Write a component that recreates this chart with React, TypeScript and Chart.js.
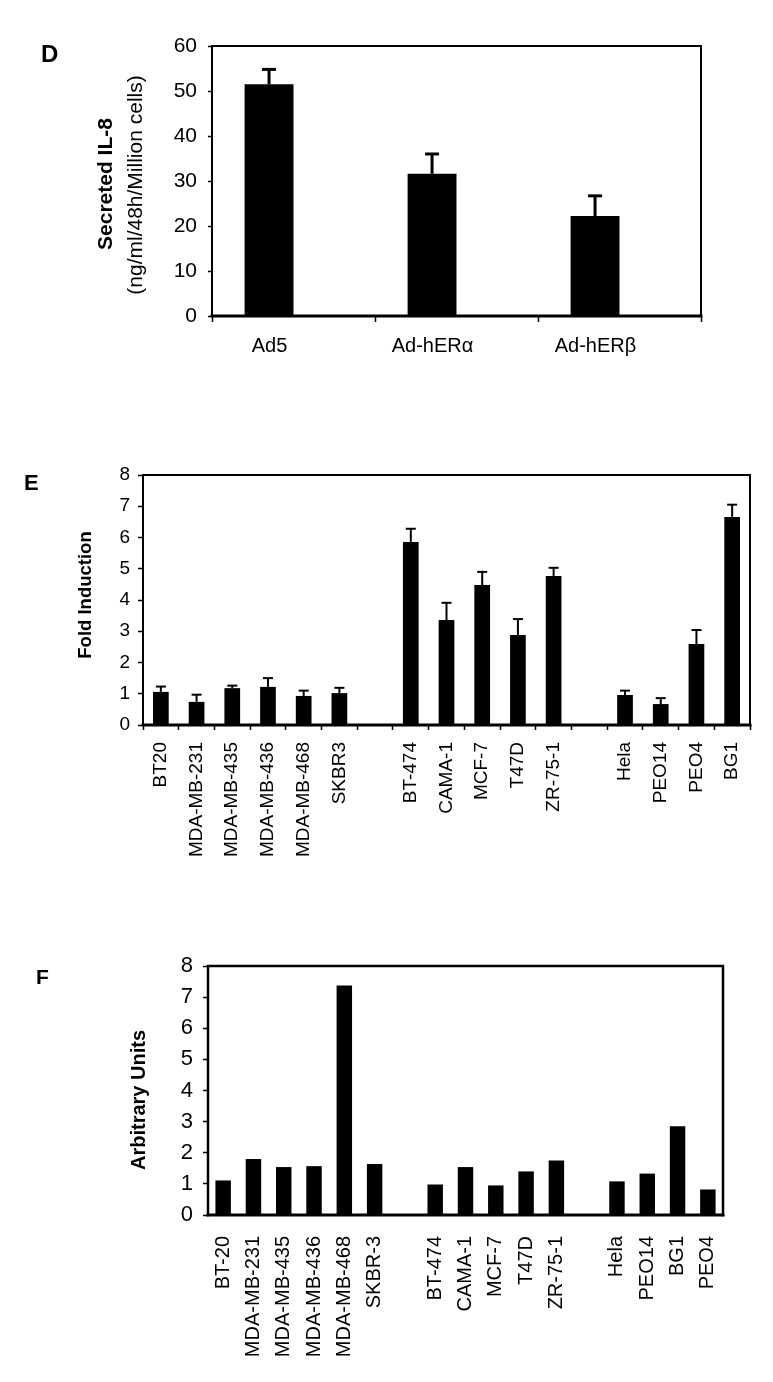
import React, { useEffect, useRef } from 'react';
import { Chart, registerables } from 'chart.js';

Chart.register(...registerables);

const FONT = '"Liberation Sans", Arial, Helvetica, sans-serif';

// ---------- Panel D ----------
const dCategories = ['Ad5', 'Ad-hERα', 'Ad-hERβ'];
const dValues = [51.5, 31.6, 22.2];
const dErrors = [3.3, 4.4, 4.5];
const dSpacer = [null, null, null];
const dMax = 60;
const dStep = 10;

// ---------- Panel E ----------
const eCategories = [
  'BT20', 'MDA-MB-231', 'MDA-MB-435', 'MDA-MB-436', 'MDA-MB-468', 'SKBR3', '',
  'BT-474', 'CAMA-1', 'MCF-7', 'T47D', 'ZR-75-1', '',
  'Hela', 'PEO14', 'PEO4', 'BG1',
];
const eValues = [1.06, 0.74, 1.18, 1.22, 0.93, 1.02, null, 5.86, 3.36, 4.48, 2.88, 4.77, null, 0.96, 0.67, 2.59, 6.66];
const eErrors = [0.17, 0.23, 0.08, 0.28, 0.17, 0.17, null, 0.42, 0.55, 0.42, 0.51, 0.26, null, 0.14, 0.19, 0.45, 0.39];
const eMax = 8;
const eStep = 1;

// ---------- Panel F ----------
const fCategories = [
  'BT-20', 'MDA-MB-231', 'MDA-MB-435', 'MDA-MB-436', 'MDA-MB-468', 'SKBR-3', '',
  'BT-474', 'CAMA-1', 'MCF-7', 'T47D', 'ZR-75-1', '',
  'Hela', 'PEO14', 'BG1', 'PEO4',
];
const fValues = [1.11, 1.80, 1.54, 1.57, 7.37, 1.64, null, 0.98, 1.54, 0.95, 1.40, 1.75, null, 1.08, 1.33, 2.85, 0.82];
const fMax = 8;
const fStep = 1;

type Txt = { text: string; x: number; y: number; font: string; rotate?: boolean; align?: CanvasTextAlign; baseline?: CanvasTextBaseline };

type DecorOpts = {
  errors?: (number | null)[];
  capHalf?: number;
  errWidth?: number;
  side: number;
  bottom: number;
  texts: Txt[];
};

function decor(opts: DecorOpts) {
  return {
    id: 'decor',
    afterDatasetsDraw(chart: any) {
      const ctx = chart.ctx as CanvasRenderingContext2D;
      const ys = chart.scales.y;
      const meta = chart.getDatasetMeta(0);
      const vals = chart.data.datasets[0].data as (number | null)[];
      if (opts.errors) {
        ctx.save();
        ctx.strokeStyle = '#000';
        ctx.lineWidth = opts.errWidth || 2;
        ctx.lineCap = 'butt';
        opts.errors.forEach((e, i) => {
          const v = vals[i];
          if (v == null || e == null) return;
          const x = meta.data[i].x;
          const y0 = ys.getPixelForValue(v);
          const y1 = ys.getPixelForValue(v + e);
          ctx.beginPath();
          ctx.moveTo(x, y0);
          ctx.lineTo(x, y1);
          ctx.stroke();
          ctx.beginPath();
          ctx.moveTo(x - (opts.capHalf || 5), y1);
          ctx.lineTo(x + (opts.capHalf || 5), y1);
          ctx.stroke();
        });
        ctx.restore();
      }
      const a = chart.chartArea;
      ctx.save();
      ctx.strokeStyle = '#000';
      ctx.lineCap = 'square';
      ctx.lineWidth = opts.side;
      ctx.beginPath();
      ctx.moveTo(a.left, a.bottom);
      ctx.lineTo(a.left, a.top);
      ctx.lineTo(a.right, a.top);
      ctx.lineTo(a.right, a.bottom);
      ctx.stroke();
      ctx.lineWidth = opts.bottom;
      ctx.beginPath();
      ctx.moveTo(a.left, a.bottom);
      ctx.lineTo(a.right, a.bottom);
      ctx.stroke();
      ctx.restore();
    },
    afterDraw(chart: any) {
      const ctx = chart.ctx as CanvasRenderingContext2D;
      ctx.save();
      ctx.fillStyle = '#000';
      for (const t of opts.texts) {
        ctx.save();
        ctx.font = t.font;
        ctx.textAlign = t.align || 'center';
        ctx.textBaseline = t.baseline || 'middle';
        ctx.translate(t.x, t.y);
        if (t.rotate) ctx.rotate(-Math.PI / 2);
        ctx.fillText(t.text, 0, 0);
        ctx.restore();
      }
      ctx.restore();
    },
  };
}

type AxisSpec = {
  yWidth: number;
  xHeight: number;
  pad: { top: number; right: number };
  yMax: number;
  yStep: number;
  yFont: number;
  yPad: number;
  yTick: number;
  xFont: number;
  xPad: number;
  xTick: number;
  xRot: number;
  xLabelOffset?: number;
};

function makeOptions(s: AxisSpec): any {
  return {
    responsive: false,
    animation: false,
    devicePixelRatio: 1,
    layout: { padding: { left: 0, right: s.pad.right, top: s.pad.top, bottom: 0 } },
    plugins: { legend: { display: false }, tooltip: { enabled: false } },
    scales: {
      x: {
        type: 'category',
        offset: true,
        grid: {
          offset: true,
          drawOnChartArea: false,
          drawTicks: s.xTick > 0,
          tickLength: s.xTick,
          tickColor: '#000',
          tickWidth: 1.5,
        },
        border: { display: false },
        ticks: {
          autoSkip: false,
          maxRotation: s.xRot,
          minRotation: s.xRot,
          color: '#000',
          padding: s.xPad,
          labelOffset: s.xLabelOffset || 0,
          font: { family: FONT, size: s.xFont },
        },
        afterFit(scale: any) {
          scale.height = s.xHeight;
        },
      },
      y: {
        min: 0,
        max: s.yMax,
        grid: {
          drawOnChartArea: false,
          drawTicks: true,
          tickLength: s.yTick,
          tickColor: '#000',
          tickWidth: 1.5,
        },
        border: { display: false },
        ticks: {
          stepSize: s.yStep,
          color: '#000',
          padding: s.yPad,
          font: { family: FONT, size: s.yFont },
        },
        afterFit(scale: any) {
          scale.width = s.yWidth;
        },
      },
    },
  };
}

function buildD() {
  return {
    type: 'bar',
    data: {
      labels: dCategories,
      datasets: [
        { data: dValues, backgroundColor: '#000', borderWidth: 0, barPercentage: 1, categoryPercentage: 0.6 },
        { data: dSpacer, backgroundColor: '#000', borderWidth: 0, barPercentage: 1, categoryPercentage: 0.6 },
      ],
    },
    options: makeOptions({
      yWidth: 212, xHeight: 84, pad: { top: 46, right: 72 },
      yMax: dMax, yStep: dStep, yFont: 21, yPad: 11, yTick: 4,
      xFont: 20, xPad: 12, xTick: 6, xRot: 0, xLabelOffset: -24,
    }),
    plugins: [
      decor({
        errors: dErrors, capHalf: 7, errWidth: 3, side: 2, bottom: 3,
        texts: [
          { text: 'D', x: 41, y: 62, font: `bold 24px ${FONT}`, align: 'left', baseline: 'alphabetic' },
          { text: 'Secreted IL-8', x: 106, y: 184, font: `bold 21px ${FONT}`, rotate: true },
          { text: '(ng/ml/48h/Million cells)', x: 136, y: 185, font: `21px ${FONT}`, rotate: true },
        ],
      }),
    ],
  };
}

function buildE() {
  return {
    type: 'bar',
    data: {
      labels: eCategories,
      datasets: [
        { data: eValues, backgroundColor: '#000', borderWidth: 0, barPercentage: 0.44, categoryPercentage: 1 },
      ],
    },
    options: makeOptions({
      yWidth: 143, xHeight: 155, pad: { top: 75, right: 23 },
      yMax: eMax, yStep: eStep, yFont: 19, yPad: 8, yTick: 5,
      xFont: 19, xPad: 12, xTick: 5, xRot: 90,
    }),
    plugins: [
      decor({
        errors: eErrors, capHalf: 5, errWidth: 2, side: 2, bottom: 3,
        texts: [
          { text: 'E', x: 24, y: 90, font: `bold 22px ${FONT}`, align: 'left', baseline: 'alphabetic' },
          { text: 'Fold Induction', x: 86, y: 195, font: `bold 18.5px ${FONT}`, rotate: true },
        ],
      }),
    ],
  };
}

function buildF() {
  return {
    type: 'bar',
    data: {
      labels: fCategories,
      datasets: [
        { data: fValues, backgroundColor: '#000', borderWidth: 0, barPercentage: 0.51, categoryPercentage: 1 },
      ],
    },
    options: makeOptions({
      yWidth: 208, xHeight: 167, pad: { top: 86, right: 50 },
      yMax: fMax, yStep: fStep, yFont: 22, yPad: 10, yTick: 5,
      xFont: 20, xPad: 21, xTick: 0, xRot: 90,
    }),
    plugins: [
      decor({
        side: 2.5, bottom: 3,
        texts: [
          { text: 'F', x: 36, y: 104, font: `bold 21px ${FONT}`, align: 'left', baseline: 'alphabetic' },
          { text: 'Arbitrary Units', x: 139.5, y: 220, font: `bold 20px ${FONT}`, rotate: true },
        ],
      }),
    ],
  };
}

function Panel({ top, height, build }: { top: number; height: number; build: () => any }) {
  const ref = useRef<HTMLCanvasElement | null>(null);
  useEffect(() => {
    if (!ref.current) return;
    const chart = new Chart(ref.current, build());
    return () => chart.destroy();
  }, []);
  return (
    <canvas
      ref={ref}
      width={773}
      height={height}
      style={{ position: 'absolute', left: 0, top, width: 773, height, display: 'block' }}
    />
  );
}

export default function App() {
  return (
    <div style={{ position: 'absolute', left: 0, top: 0, width: 773, height: 1382, background: '#fff', overflow: 'hidden' }}>
      <Panel top={0} height={400} build={buildD} />
      <Panel top={400} height={480} build={buildE} />
      <Panel top={880} height={502} build={buildF} />
    </div>
  );
}
